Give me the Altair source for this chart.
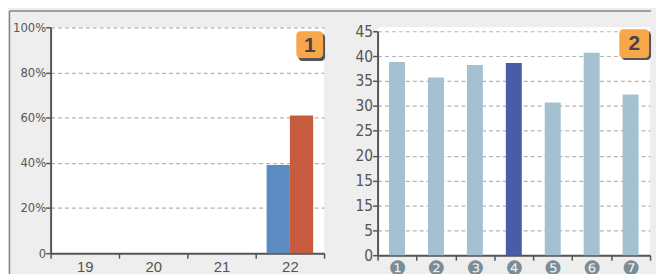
import altair as alt
import pandas as pd

# Panel 1 data
years = ["19", "20", "21", "22"]
series = ["A", "B"]
values_a = [0, 0, 0, 0.39]
values_b = [0, 0, 0, 0.61]

# Panel 2 data
questions = ["❶", "❷", "❸", "❹", "❺", "❻", "❼"]
scores = [38.8, 35.7, 38.2, 38.6, 30.7, 40.7, 32.3]
highlight = "❹"

badge1 = ["1"]
badge2 = ["2"]

df1 = pd.DataFrame(
    [{"year": y, "series": "A", "value": v} for y, v in zip(years, values_a)]
    + [{"year": y, "series": "B", "value": v} for y, v in zip(years, values_b)]
)
df2 = pd.DataFrame({"q": questions, "score": scores})

AXIS_COLOR = "#555555"
GRID_COLOR = "#b4b4b4"
FRAME_COLOR = "#858585"
FONT = "Liberation Sans"
NARROW = "DejaVu Sans Condensed"

# ---------------- Panel 1 ----------------
bars1 = alt.Chart(df1).mark_bar().encode(
    x=alt.X(
        "year:N",
        sort=years,
        scale=alt.Scale(paddingInner=0, paddingOuter=0),
        axis=alt.Axis(
            title=None, labelAngle=0, tickBand="extent", domainColor=AXIS_COLOR,
            domainWidth=2, tickColor=AXIS_COLOR, tickSize=5, tickWidth=1.5,
            labelColor="#555555", labelFontSize=15, labelFont=FONT, labelPadding=1,
            grid=False,
        ),
    ),
    xOffset=alt.XOffset("series:N", sort=series,
                        scale=alt.Scale(paddingOuter=0.47, paddingInner=0)),
    y=alt.Y(
        "value:Q",
        scale=alt.Scale(domain=[0, 1], nice=False),
        axis=alt.Axis(
            title=None, values=[0, 0.2, 0.4, 0.6, 0.8, 1.0],
            labelExpr="datum.value == 0 ? '0' : format(datum.value, '.0%')",
            domainColor=AXIS_COLOR, domainWidth=2, tickColor=AXIS_COLOR,
            tickSize=5, tickWidth=1.5, labelColor="#555555", labelFontSize=13,
            labelFont=NARROW, labelPadding=0,
            gridColor=GRID_COLOR, gridDash=[4, 3], gridWidth=1.2,
        ),
    ),
    color=alt.Color("series:N", sort=series,
                    scale=alt.Scale(domain=series, range=["#5b8bc0", "#c75b40"]),
                    legend=None),
)

b1df = pd.DataFrame({"t": badge1})
shadow1 = alt.Chart(b1df).mark_rect(cornerRadius=4, fill="#555555").encode(
    x=alt.value(250), x2=alt.value(277), y=alt.value(6), y2=alt.value(34))
rect1 = alt.Chart(b1df).mark_rect(cornerRadius=4, fill="#f8a64a").encode(
    x=alt.value(248), x2=alt.value(275), y=alt.value(4), y2=alt.value(31))
text1 = alt.Chart(b1df).mark_text(fontSize=21, fontWeight="bold", color="#444444",
                                  font=FONT).encode(
    x=alt.value(261.5), y=alt.value(18.5), text="t:N")

# outer frame lines (top and left edge of the grey box)
frame_top = alt.Chart(b1df).mark_rule(color=FRAME_COLOR, strokeWidth=1.5).encode(
    x=alt.value(-41.5), x2=alt.value(606), y=alt.value(-16.5))
frame_left = alt.Chart(b1df).mark_rule(color=FRAME_COLOR, strokeWidth=1.5).encode(
    x=alt.value(-41.5), y=alt.value(-16.5), y2=alt.value(300))

panel1 = alt.layer(frame_top, frame_left, bars1, shadow1, rect1, text1).properties(
    width=276, height=228)

# ---------------- Panel 2 ----------------
bars2 = alt.Chart(df2).mark_bar(width=alt.RelativeBandSize(0.41)).encode(
    x=alt.X(
        "q:N", sort=questions,
        scale=alt.Scale(paddingInner=0, paddingOuter=0),
        axis=alt.Axis(
            title=None, labelAngle=0, tickBand="extent", domainColor=AXIS_COLOR,
            domainWidth=2, tickColor=AXIS_COLOR, tickSize=5, tickWidth=1.5,
            labelColor="#7a8d97", labelFontSize=20, labelFont="DejaVu Sans",
            labelPadding=-2, grid=False,
        ),
    ),
    y=alt.Y(
        "score:Q",
        scale=alt.Scale(domain=[0, 45], nice=False, range=[230, 4]),
        axis=alt.Axis(
            title=None, values=list(range(0, 50, 5)),
            labelExpr="datum.value == 10 ? '15' : datum.label",
            domainColor=AXIS_COLOR, domainWidth=2, tickColor=AXIS_COLOR,
            tickSize=5, tickWidth=1.5, labelColor="#555555", labelFontSize=15.5,
            labelFont=NARROW, labelPadding=0,
            gridColor=GRID_COLOR, gridDash=[4, 3], gridWidth=1.2,
        ),
    ),
    color=alt.condition(alt.datum.q == highlight, alt.value("#4a5ba8"),
                        alt.value("#a3c1d1")),
)

b2df = pd.DataFrame({"t": badge2})
shadow2 = alt.Chart(b2df).mark_rect(cornerRadius=4, fill="#555555").encode(
    x=alt.value(246), x2=alt.value(276), y=alt.value(4), y2=alt.value(33))
rect2 = alt.Chart(b2df).mark_rect(cornerRadius=4, fill="#f8a64a").encode(
    x=alt.value(244), x2=alt.value(274), y=alt.value(2), y2=alt.value(31))
text2 = alt.Chart(b2df).mark_text(fontSize=21, fontWeight="bold", color="#444444",
                                  font=FONT).encode(
    x=alt.value(259), y=alt.value(16.5), text="t:N")

panel2 = alt.layer(bars2, shadow2, rect2, text2).properties(width=275, height=230)

chart = alt.hconcat(panel1, panel2, spacing=54, bounds="flush").properties(
    background="#eeeeee",
    padding={"left": 0, "top": 0, "right": 4, "bottom": 0},
).configure_view(fill="white", stroke=None)

chart.save("out.html", embed_options={"renderer": "svg", "actions": False})
